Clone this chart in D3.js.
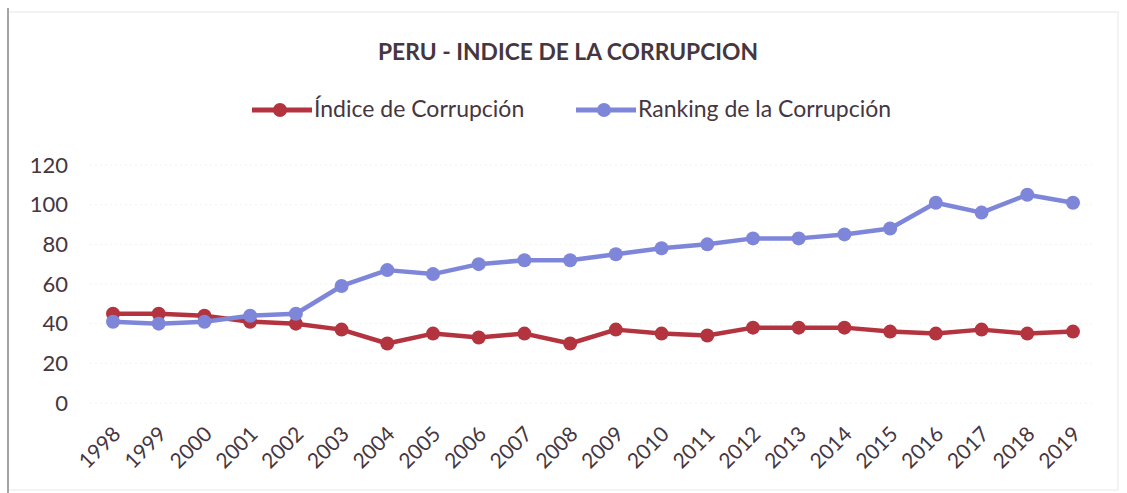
<!DOCTYPE html>
<html>
<head>
<meta charset="utf-8">
<script src="https://cdn.jsdelivr.net/npm/d3@7"></script>
<style>
  body { margin: 0; background: #fff; }
  svg { display: block; }
</style>
</head>
<body>
<div id="chart"></div>
<script>
const years = ['1998', '1999', '2000', '2001', '2002', '2003', '2004', '2005', '2006', '2007', '2008',
  '2009', '2010', '2011', '2012', '2013', '2014', '2015', '2016', '2017', '2018', '2019'];
const indice = [45, 45, 44, 41, 40, 37, 30, 35, 33, 35, 30, 37, 35, 34, 38, 38, 38, 36, 35, 37, 35, 36];
const ranking = [41, 40, 41, 44, 45, 59, 67, 65, 70, 72, 72, 75, 78, 80, 83, 83, 85, 88, 101, 96, 105, 101];
const yTicks = [0, 20, 40, 60, 80, 100, 120];

const width = 1127;
const height = 493;
const textColor = '#45363f';
const font = 'Lato, "Open Sans", sans-serif';

const series = [
  { name: 'Índice de Corrupción', values: indice, color: '#b3343f' },
  { name: 'Ranking de la Corrupción', values: ranking, color: '#7e86da' }
];

const svg = d3.select('#chart').append('svg')
  .attr('width', width)
  .attr('height', height);

// frame
svg.append('rect')
  .attr('x', 8).attr('y', 12)
  .attr('width', 1110).attr('height', 478)
  .attr('fill', 'none')
  .attr('stroke', '#e8e8e8');
svg.append('line')
  .attr('x1', 8).attr('x2', 8).attr('y1', 8).attr('y2', 493)
  .attr('stroke', '#888').attr('stroke-width', 1.5);

const x = d3.scalePoint()
  .domain(years)
  .range([113, 1073]);

const y = d3.scaleLinear()
  .domain([0, 120])
  .range([403, 165]);

// faint gridlines
svg.append('g')
  .selectAll('line')
  .data(yTicks)
  .enter().append('line')
    .attr('x1', 90).attr('x2', 1095)
    .attr('y1', d => y(d)).attr('y2', d => y(d))
    .attr('stroke', '#f2f2f2')
    .attr('stroke-dasharray', '2,3');

// y axis labels
const yAxis = svg.append('g')
  .attr('transform', 'translate(68,0)')
  .call(d3.axisLeft(y).tickValues(yTicks).tickSize(0).tickPadding(0));
yAxis.select('.domain').remove();
yAxis.selectAll('text')
  .attr('font-family', font)
  .attr('font-size', 22)
  .attr('fill', textColor);

// x axis labels, rotated
const xAxis = svg.append('g')
  .attr('transform', 'translate(0,425)')
  .call(d3.axisBottom(x).tickSize(0).tickPadding(0));
xAxis.select('.domain').remove();
xAxis.selectAll('text')
  .attr('font-family', font)
  .attr('font-size', 21)
  .attr('fill', textColor)
  .attr('text-anchor', 'end')
  .attr('dy', '0.7em')
  .attr('transform', 'translate(-2,0) rotate(-45)');

const line = d3.line()
  .x((d, i) => x(years[i]))
  .y(d => y(d));

series.forEach((s) => {
  svg.append('path')
    .datum(s.values)
    .attr('d', line)
    .attr('fill', 'none')
    .attr('stroke', s.color)
    .attr('stroke-width', 4.5)
    .attr('stroke-linejoin', 'round');
  svg.append('g')
    .selectAll('circle')
    .data(s.values)
    .enter().append('circle')
      .attr('cx', (d, i) => x(years[i]))
      .attr('cy', d => y(d))
      .attr('r', 7)
      .attr('fill', s.color);
});

// title
svg.append('text')
  .attr('x', 568)
  .attr('y', 60)
  .attr('text-anchor', 'middle')
  .attr('font-family', font)
  .attr('font-weight', 'bold')
  .attr('font-size', 22.8)
  .attr('fill', textColor)
  .text('PERU - INDICE DE LA CORRUPCION');

// legend
const legendPos = [252, 576];
series.forEach((s, i) => {
  const g = svg.append('g')
    .attr('transform', `translate(${legendPos[i]},110)`);
  g.append('line')
    .attr('x1', 0).attr('x2', 60)
    .attr('stroke', s.color)
    .attr('stroke-width', 5);
  g.append('circle')
    .attr('cx', 28).attr('r', 7)
    .attr('fill', s.color);
  g.append('text')
    .attr('x', 62)
    .attr('y', 7)
    .attr('font-family', font)
    .attr('font-size', 23)
    .attr('fill', textColor)
    .text(s.name);
});
</script>
</body>
</html>
